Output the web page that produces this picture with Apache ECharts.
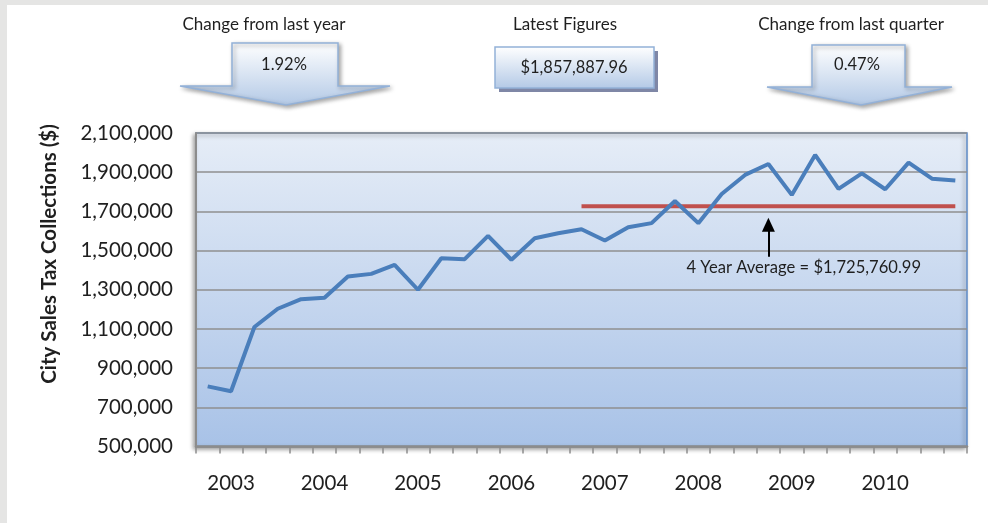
<!DOCTYPE html>
<html>
<head>
<meta charset="utf-8">
<script src="https://cdn.jsdelivr.net/npm/echarts@6/dist/echarts.min.js"></script>
<style>
html,body{margin:0;padding:0;background:#fff;}
#chart{width:988px;height:523px;}
</style>
</head>
<body>
<div id="chart"></div>
<script>
// ---- data ----
var quarters = ['2002 Q4',
  '2003 Q1','2003 Q2','2003 Q3','2003 Q4',
  '2004 Q1','2004 Q2','2004 Q3','2004 Q4',
  '2005 Q1','2005 Q2','2005 Q3','2005 Q4',
  '2006 Q1','2006 Q2','2006 Q3','2006 Q4',
  '2007 Q1','2007 Q2','2007 Q3','2007 Q4',
  '2008 Q1','2008 Q2','2008 Q3','2008 Q4',
  '2009 Q1','2009 Q2','2009 Q3','2009 Q4',
  '2010 Q1','2010 Q2','2010 Q3','2010 Q4'];
var collections = [807000, 782000, 1110000, 1203000, 1252000, 1259000, 1368000, 1381000,
  1427000, 1300000, 1461000, 1456000, 1575000, 1453000, 1563000, 1588000,
  1609000, 1551000, 1619000, 1640000, 1753000, 1640000, 1789000, 1886000,
  1942000, 1784000, 1988000, 1815000, 1894258, 1813000, 1949000, 1866660, 1857887.96];
var yTicks = [500000, 700000, 900000, 1100000, 1300000, 1500000, 1700000, 1900000, 2100000];
var fourYearAverage = 1725760.99;
var averageStartIndex = 16;
var averageLabel = '4 Year Average = $1,725,760.99';
var arrowQuarter = '2008 Q4';
var arrowFromTo = [1468000, 1632000];
var labelQuarter = '2009 Q1';
var labelValue = 1412000;
var panelTitles = ['Change from last year', 'Latest Figures', 'Change from last quarter'];
var panelValues = ['1.92%', '$1,857,887.96', '0.47%'];

var averageSeries = quarters.map(function (q, i) { return i >= averageStartIndex ? fourYearAverage : null; });

function fmt(v) { return String(v).replace(/\B(?=(\d{3})+(?!\d))/g, ','); }

var FONT = 'Lato';
var INK = '#1f1f1f';
var boxFill = {type:'linear', x:0, y:0, x2:0, y2:1, colorStops:[{offset:0,color:'#ffffff'},{offset:1,color:'#b3c9e6'}]};
function downArrow(rx1, rx2, top, shoulder, hx1, hx2, tipX, tipY) {
  return {
    type:'polygon', z:10,
    shape:{points:[[rx1,top],[rx2,top],[rx2,shoulder],[hx2,shoulder],[tipX,tipY],[hx1,shoulder],[rx1,shoulder]]},
    style:{fill:boxFill, stroke:'#93b1d8', lineWidth:1.5, shadowBlur:4, shadowOffsetX:2, shadowOffsetY:2, shadowColor:'rgba(0,0,0,0.35)'}
  };
}
function txt(x, y, s, size) {
  return {type:'text', z:20, x:x, y:y, style:{text:s, fill:INK, font:size+'px '+FONT, align:'center', verticalAlign:'middle'}};
}

var chart = echarts.init(document.getElementById('chart'));
chart.setOption({
  backgroundColor:'#ffffff',
  animation:false,
  graphic:[
    {type:'rect', z:1, shape:{x:0,y:0,width:988,height:5}, style:{fill:'#e5e5e4'}},
    {type:'rect', z:1, shape:{x:0,y:0,width:7,height:523}, style:{fill:'#e5e5e4'}},
    txt(264, 25, panelTitles[0], 17),
    txt(565, 25, panelTitles[1], 17),
    txt(851, 25, panelTitles[2], 17),
    downArrow(232, 338, 43, 86, 180, 390, 286, 105),
    {type:'rect', z:9, shape:{x:499,y:51,width:159,height:41}, style:{fill:'#7f87a6'}},
    {type:'rect', z:10, shape:{x:495,y:47,width:159,height:41}, style:{fill:boxFill, stroke:'#93b1d8', lineWidth:1.5}},
    downArrow(812, 905, 45, 87, 767, 952, 861, 105),
    txt(284, 65, panelValues[0], 16.5),
    txt(574, 68, panelValues[1], 16.5),
    txt(857, 65, panelValues[2], 16.5),
    {type:'text', z:20, x:49, y:254, rotation:Math.PI/2,
     style:{text:'City Sales Tax Collections ($)', fill:INK, font:'bold 20.5px '+FONT, align:'center', verticalAlign:'middle'}}
  ],
  grid:{left:196, right:21, top:133, bottom:76.5, show:true,
    backgroundColor:{type:'linear', x:0, y:0, x2:0, y2:1, colorStops:[{offset:0,color:'#e6edf7'},{offset:1,color:'#a8c2e7'}]},
    borderColor:'#5d8ac6', borderWidth:1.5,
    shadowColor:'rgba(0,0,0,0.35)', shadowBlur:4, shadowOffsetX:-2, shadowOffsetY:2},
  xAxis:{type:'category', data:quarters, boundaryGap:true,
    axisLine:{show:true, lineStyle:{color:'#8c8c8c', width:2.5}},
    axisTick:{show:true, interval:0, length:7, lineStyle:{color:'#8c8c8c', width:1.5}},
    axisLabel:{interval:function(i, v){ return v.slice(5) === 'Q1'; },
      formatter:function(v){ return v.slice(0,4); },
      color:INK, fontFamily:FONT, fontSize:20.5, lineHeight:20, margin:27},
    splitLine:{show:false}},
  yAxis:{type:'value', min:yTicks[0], max:yTicks[yTicks.length-1], interval:yTicks[1]-yTicks[0],
    axisLine:{show:true, lineStyle:{color:'#8c8c8c', width:2}},
    axisTick:{show:false},
    axisLabel:{formatter:function(v){ return fmt(v); }, color:INK, fontFamily:FONT, fontSize:20.5, margin:23},
    splitLine:{show:true, lineStyle:{color:'#8f8f8f', width:1.5}}},
  series:[
    {name:'4 Year Average', type:'line', data:averageSeries, symbol:'none', connectNulls:false,
      lineStyle:{color:'#c0504d', width:4}, z:3,
      markLine:{silent:true, symbol:['none','triangle'], symbolSize:[13,14],
        lineStyle:{color:'#000000', width:2, type:'solid'}, label:{show:false},
        data:[[{coord:[arrowQuarter, arrowFromTo[0]]},{coord:[arrowQuarter, arrowFromTo[1]]}]]},
      markPoint:{silent:true, symbol:'circle', symbolSize:1, itemStyle:{color:'rgba(0,0,0,0)'},
        label:{show:true, position:'inside', offset:[12,0], formatter:averageLabel, color:INK, fontFamily:FONT, fontSize:16.6},
        data:[{coord:[labelQuarter, labelValue]}]}},
    {name:'City Sales Tax Collections', type:'line', data:collections, symbol:'none',
      lineStyle:{color:'#4a7ebb', width:4}, z:4}
  ]
});
</script>
</body>
</html>
